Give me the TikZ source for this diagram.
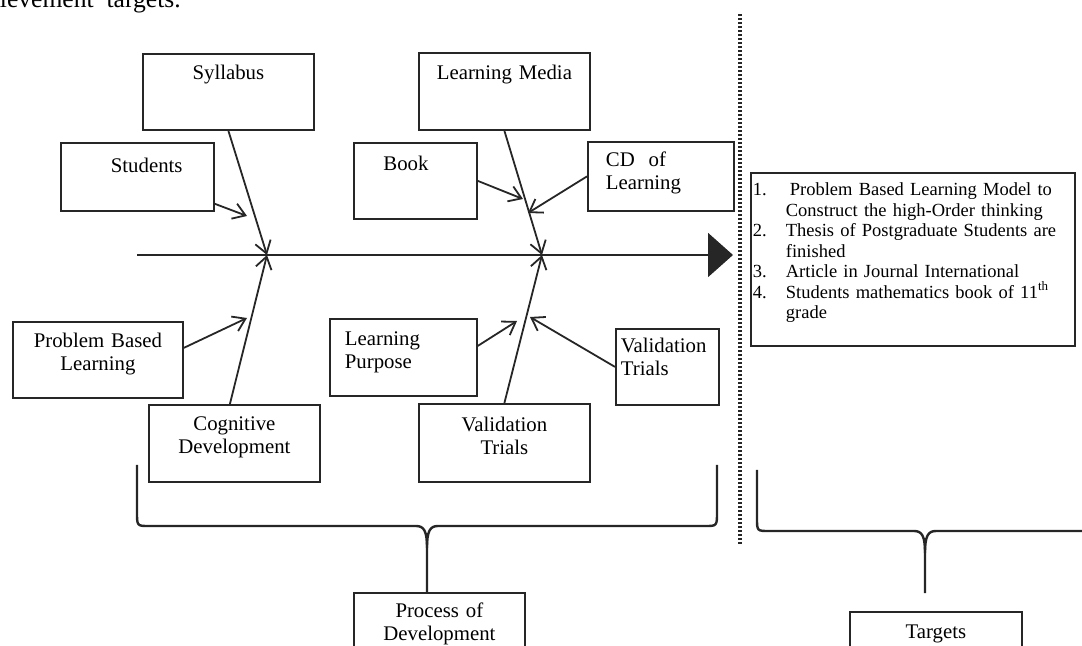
\documentclass[tikz,border=0pt]{standalone}
\usepackage{fontspec}
\setmainfont{Liberation Serif}
\usetikzlibrary{arrows.meta}
\tikzset{
  fbox/.style={rectangle, draw=black!85, line width=0.9pt, inner sep=0pt,
               anchor=north west, font=\fontsize{10.4}{11.5}\selectfont},
  arrow/.style={-{Straight Barb[length=6pt, width=8pt]}, line width=0.9pt, draw=black!85},
  spine/.style={-{Triangle[length=12.5pt, width=22pt]}, line width=0.9pt, draw=black!85},
  brace/.style={line width=1.2pt, draw=black!85, line join=round},
  divider/.style={line width=1.6pt, draw=black!85, dash pattern=on 1.2pt off 0.8pt}
}
\newcommand{\tgtnum}[1]{\makebox[16.5pt][l]{#1}}
\newcommand{\tgtcont}{\hspace*{16.5pt}}

\begin{document}
\begin{tikzpicture}[x=0.5pt, y=-0.5pt]
\useasboundingbox (0,0) rectangle (1082,646);

% cut-off line of the page text
\node[anchor=base west, inner sep=0pt, font=\fontsize{12.8}{14}\selectfont] (caption) at (-36,8) {achievement\ \ targets.};

% Upper bones
\node[fbox, text width=85.5pt, align=center, text height=13pt, text depth=25pt] (syl) at (142,53) {Syllabus};
\node[fbox, text width=76.5pt, align=left, text height=15pt, text depth=19pt] (stu) at (60,142) {\hspace*{25pt}Students};
\node[fbox, text width=85.5pt, align=center, text height=13.5pt, text depth=25pt] (lm) at (418,52) {Learning Media};
\node[fbox, text width=61.5pt, align=left, text height=14pt, text depth=24pt] (book) at (353,142) {\hspace*{14.75pt}Book};
\node[fbox, text width=73pt, align=left, text height=12.5pt, text depth=22pt] (cd) at (587,141) {\hspace*{9pt}CD\ \ of\\\hspace*{9pt}Learning};

% Lower bones
\node[fbox, text width=85pt, align=center, text height=13pt, text depth=25pt] (pbl) at (12,321) {Problem Based\\Learning};
\node[fbox, text width=85.5pt, align=center, text height=13pt, text depth=25.5pt] (cog) at (148,404) {Cognitive\\Development};
\node[fbox, text width=73.5pt, align=left, text height=13.5pt, text depth=25pt] (lp) at (329,318) {\hspace*{7.5pt}Learning\\\hspace*{7.5pt}Purpose};
\node[fbox, text width=85.5pt, align=center, text height=14pt, text depth=25pt] (vtb) at (418,403) {Validation\\Trials};
\node[fbox, text width=51.5pt, align=left, text height=12pt, text depth=26pt] (vtr) at (615,328) {\hspace*{2.5pt}Validation\\\hspace*{2.5pt}Trials};

% Targets list
\node[fbox, text width=162pt, align=left, text height=11.5pt, text depth=75pt,
      font=\fontsize{9.25}{10.25}\selectfont] (res) at (750,172)
  {\hspace*{1pt}\tgtnum{1.}\hspace*{2pt}Problem Based Learning Model to\\
   \hspace*{1pt}\tgtcont Construct the high-Order thinking\\
   \hspace*{1pt}\tgtnum{2.}Thesis of Postgraduate Students are\\
   \hspace*{1pt}\tgtcont finished\\
   \hspace*{1pt}\tgtnum{3.}Article in Journal International\\
   \hspace*{1pt}\tgtnum{4.}Students mathematics book of 11\textsuperscript{th}\\
   \hspace*{1pt}\tgtcont grade};

% Bottom labels
\node[fbox, text width=85.5pt, align=center, text height=12.5pt, text depth=26.5pt] (proc) at (353,592) {Process of\\Development};
\node[fbox, text width=86pt, align=center, text height=13.5pt, text depth=21pt] (tgt) at (849,611) {Targets};

% Spine and joints
\coordinate (tail) at (137,255);
\coordinate (head) at (733,255);
\coordinate (j1) at (267,255);
\coordinate (j2) at (542,255);
\coordinate (s1) at (247,216);
\coordinate (p1) at (247,318);
\coordinate (b1) at (523,199);
\coordinate (c1) at (528,213);
\coordinate (l1) at (517,321);
\coordinate (v1) at (530,317);
\draw[spine] (tail) -- (head);

% --- Connections ---
\draw[arrow] (syl.south) -- (j1);
\draw[arrow] ([xshift=-2.25pt]cog.north) -- (j1);
\draw[arrow] ([yshift=4pt]stu.south east) -- (s1);
\draw[arrow] ([yshift=6pt]pbl.east) -- (p1);
\draw[arrow] (lm.south) -- (j2);
\draw[arrow] (vtb.north) -- (j2);
\draw[arrow] (book.east) -- (b1);
\draw[arrow] (cd.west) -- (c1);
\draw[arrow] ([yshift=5.75pt]lp.east) -- (l1);
\draw[arrow] (vtr.west) -- (v1);

% Divider
\coordinate (dtop) at (740,14);
\coordinate (dbot) at (740,544);
\draw[divider] (dtop) -- (dbot);

% Braces
\draw[brace] (137,465) -- (137,512) .. controls (137,526) .. (149,526) -- (416,526)
  .. controls (424,526) and (427,531) .. (427,548) -- (427,592);
\draw[brace] (717,465) -- (717,512) .. controls (717,526) .. (705,526) -- (438,526)
  .. controls (430,526) and (427,531) .. (427,548);
\draw[brace] (757,470) -- (757,518) .. controls (757,531) .. (769,531) -- (914,531)
  .. controls (922,531) and (925,536) .. (925,553) -- (925,593);
\draw[brace] (1095,531) -- (936,531) .. controls (928,531) and (925,536) .. (925,553);

\end{tikzpicture}
\end{document}
